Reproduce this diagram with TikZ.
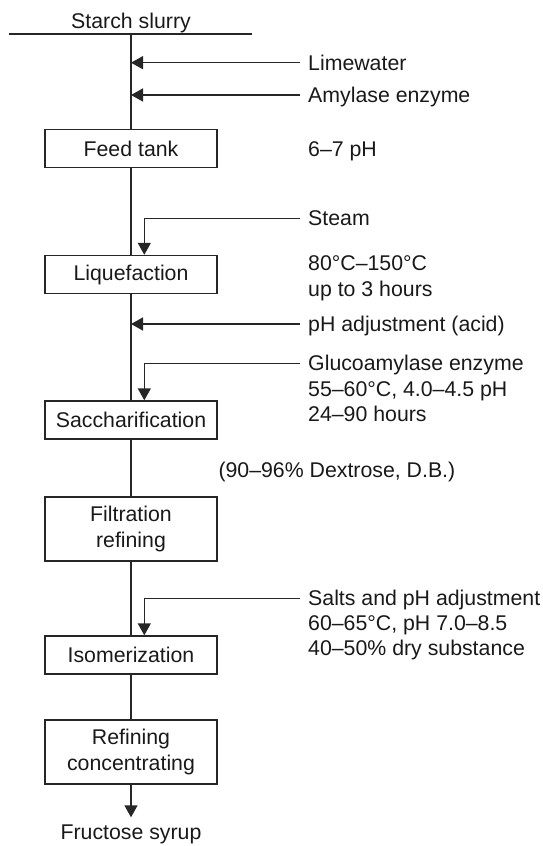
\documentclass[tikz,border=0pt]{standalone}
\usepackage{fontspec}
\setmainfont{Liberation Sans}
\usetikzlibrary{arrows.meta}
\begin{document}
\begin{tikzpicture}[x=1pt,y=-1pt,
  every node/.style={font=\fontsize{21.3}{25.4}\selectfont, text=black!90},
  flow/.style={draw=black!85, line width=1.4pt},
  stage/.style={draw=black!85, line width=1.4pt, minimum width=172pt,
    minimum height=38pt, inner sep=0pt, align=center},
  tall/.style={minimum height=64pt},
  % multi-line notes are anchored at the baseline of their last line
  note/.style={inner sep=0pt, anchor=base west, align=left},
  feedin/.style={flow, -{Triangle[length=12pt,width=13pt]}},
]
\useasboundingbox (0,0) rectangle (543,846);

% raw material header
\node[inner sep=0pt, anchor=base] (slurry) at (131,28.3) {Starch slurry};
\coordinate (hl) at (9,34);
\coordinate (hr) at (252,34);
\coordinate (top) at (131,34);
\draw[flow] (hl) -- (hr);

% process stages
\node[stage] (feed) at (131,148.5) {Feed tank};
\node[stage] (liq) at (131,274.5) {Liquefaction};
\node[stage] (sac) at (131,420) {Saccharification};
\node[stage,tall] (fil) at (131,529) {Filtration\\refining};
\node[stage] (iso) at (131,655) {Isomerization};
\node[stage,tall] (ref) at (131,752) {Refining\\concentrating};
\coordinate (out) at (131,817.3);
\node[inner sep=0pt, anchor=base] (fructose) at (131,839.6) {Fructose syrup};

% main product line
\draw[flow] (top) -- (feed.north);
\draw[flow] (feed.south) -- (liq.north);
\draw[flow] (liq.south) -- (sac.north);
\draw[flow] (sac.south) -- (fil.north);
\draw[flow] (fil.south) -- (iso.north);
\draw[flow] (iso.south) -- (ref.north);
\draw[feedin] (ref.south) -- (out);

% additions and conditions
\node[note] (lime) at (308,70.3) {Limewater};
\node[note] (amyl) at (308,102.6) {Amylase enzyme};
\node[note] (feedcond) at (308,156.1) {6–7 pH};
\node[note] (steam) at (308,225.9) {Steam};
\node[note] (liqcond) at (308,296.3) {80°C–150°C\\up to 3 hours};
\node[note] (acid) at (308,331.6) {pH adjustment (acid)};
\node[note] (gluco) at (308,421.7) {Glucoamylase enzyme\\55–60°C, 4.0–4.5 pH\\24–90 hours};
\node[note] (dex) at (218.3,477.6) {(90–96\% Dextrose, D.B.)};
\node[note] (salts) at (308,655.9) {Salts and pH adjustment\\60–65°C, pH 7.0–8.5\\40–50\% dry substance};

% input arrows
\coordinate (limeIn) at (300,62.7);
\coordinate (amylIn) at (300,95);
\coordinate (steamIn) at (300,218.3);
\coordinate (acidIn) at (300,324);
\coordinate (glucoIn) at (300,363.3);
\coordinate (saltsIn) at (300,598.3);
\draw[feedin] (limeIn) -- (limeIn -| top);
\draw[feedin] (amylIn) -- (amylIn -| top);
\draw[feedin] (steamIn) -| ([xshift=13.3pt]liq.north);
\draw[feedin] (acidIn) -- (acidIn -| top);
\draw[feedin] (glucoIn) -| ([xshift=13.3pt]sac.north);
\draw[feedin] (saltsIn) -| ([xshift=13.3pt]iso.north);
\end{tikzpicture}
\end{document}
